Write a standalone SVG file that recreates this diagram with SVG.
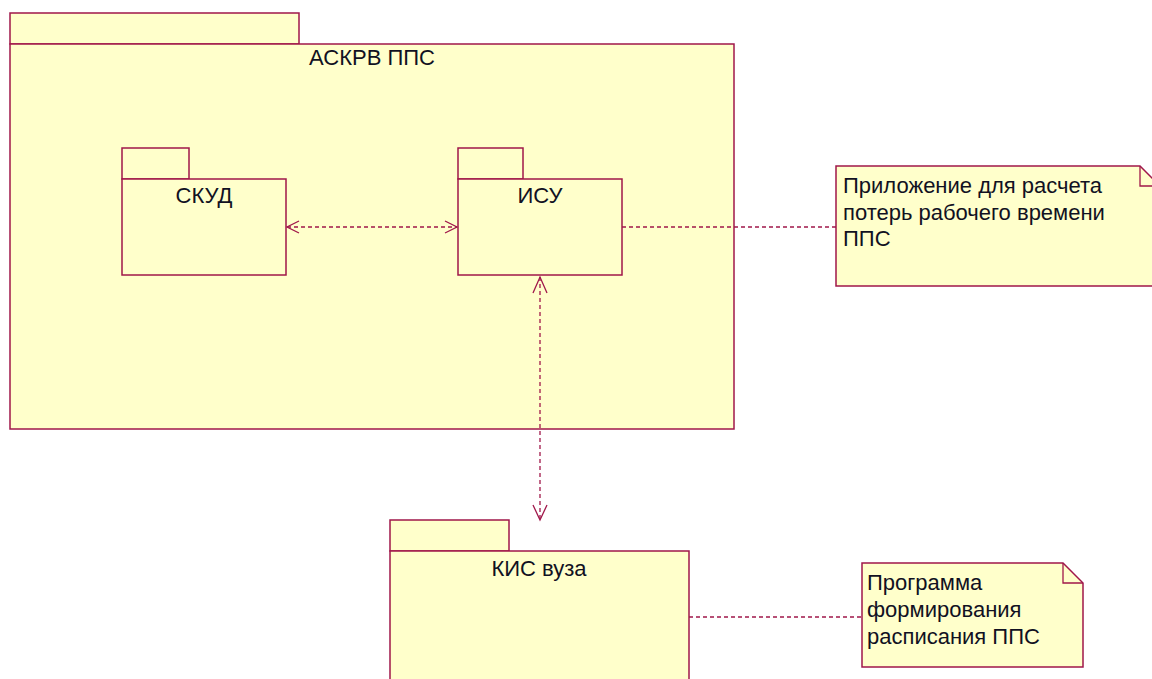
<svg xmlns="http://www.w3.org/2000/svg" width="1152" height="679" viewBox="0 0 1152 679">
<style>
.pk{fill:#ffffcb;stroke:#a0174a;stroke-width:1.5}
.t{font-family:"Liberation Sans",Arial,sans-serif;font-size:22px;fill:#111122}
.c{fill:none;stroke:#a0174a;stroke-width:1.3;stroke-dasharray:4,3}
.ah{fill:none;stroke:#a0174a;stroke-width:1.3}
</style>
<rect width="1152" height="679" fill="#ffffff"/>
<g id="askrv">
<rect class="pk" x="10" y="13" width="289" height="31"/>
<rect class="pk" x="10" y="44" width="724" height="385"/>
<text class="t" x="372" y="65" text-anchor="middle">АСКРВ ППС</text>
</g>
<g id="skud">
<rect class="pk" x="122" y="148" width="67" height="31"/>
<rect class="pk" x="122" y="179" width="164" height="96"/>
<text class="t" x="204" y="203" text-anchor="middle">СКУД</text>
</g>
<g id="isu">
<rect class="pk" x="458" y="148" width="65" height="31"/>
<rect class="pk" x="458" y="179" width="164" height="96"/>
<text class="t" x="540" y="203" text-anchor="middle">ИСУ</text>
</g>
<g id="kis">
<rect class="pk" x="390" y="520" width="119" height="31"/>
<rect class="pk" x="390" y="551" width="299" height="140"/>
<text class="t" x="539" y="576" text-anchor="middle">КИС вуза</text>
</g>
<g id="note1">
<path class="pk" d="M836,166 H1140 L1160,186 V286 H836 Z"/>
<path class="ah" d="M1140,166 V186 H1160"/>
<text class="t" x="843" y="193">Приложение для расчета</text>
<text class="t" x="843" y="220">потерь рабочего времени</text>
<text class="t" x="843" y="246">ППС</text>
</g>
<g id="note2">
<path class="pk" d="M862,563 H1063 L1083,583 V667 H862 Z"/>
<path class="ah" d="M1063,563 V583 H1083"/>
<text class="t" x="867" y="590">Программа</text>
<text class="t" x="867" y="617">формирования</text>
<text class="t" x="867" y="644">расписания ППС</text>
</g>
<g id="connectors">
<line class="c" x1="287" y1="227" x2="457" y2="227"/>
<path class="ah" d="M299,221 L287,227 L299,233"/>
<path class="ah" d="M445,221 L457,227 L445,233"/>
<line class="c" x1="540" y1="277" x2="540" y2="520"/>
<path class="ah" d="M533,293 L540,277 L547,293"/>
<path class="ah" d="M533,505 L540,520 L547,505"/>
<line class="c" x1="622" y1="227" x2="836" y2="227"/>
<line class="c" x1="689" y1="617" x2="862" y2="617"/>
</g>
</svg>
